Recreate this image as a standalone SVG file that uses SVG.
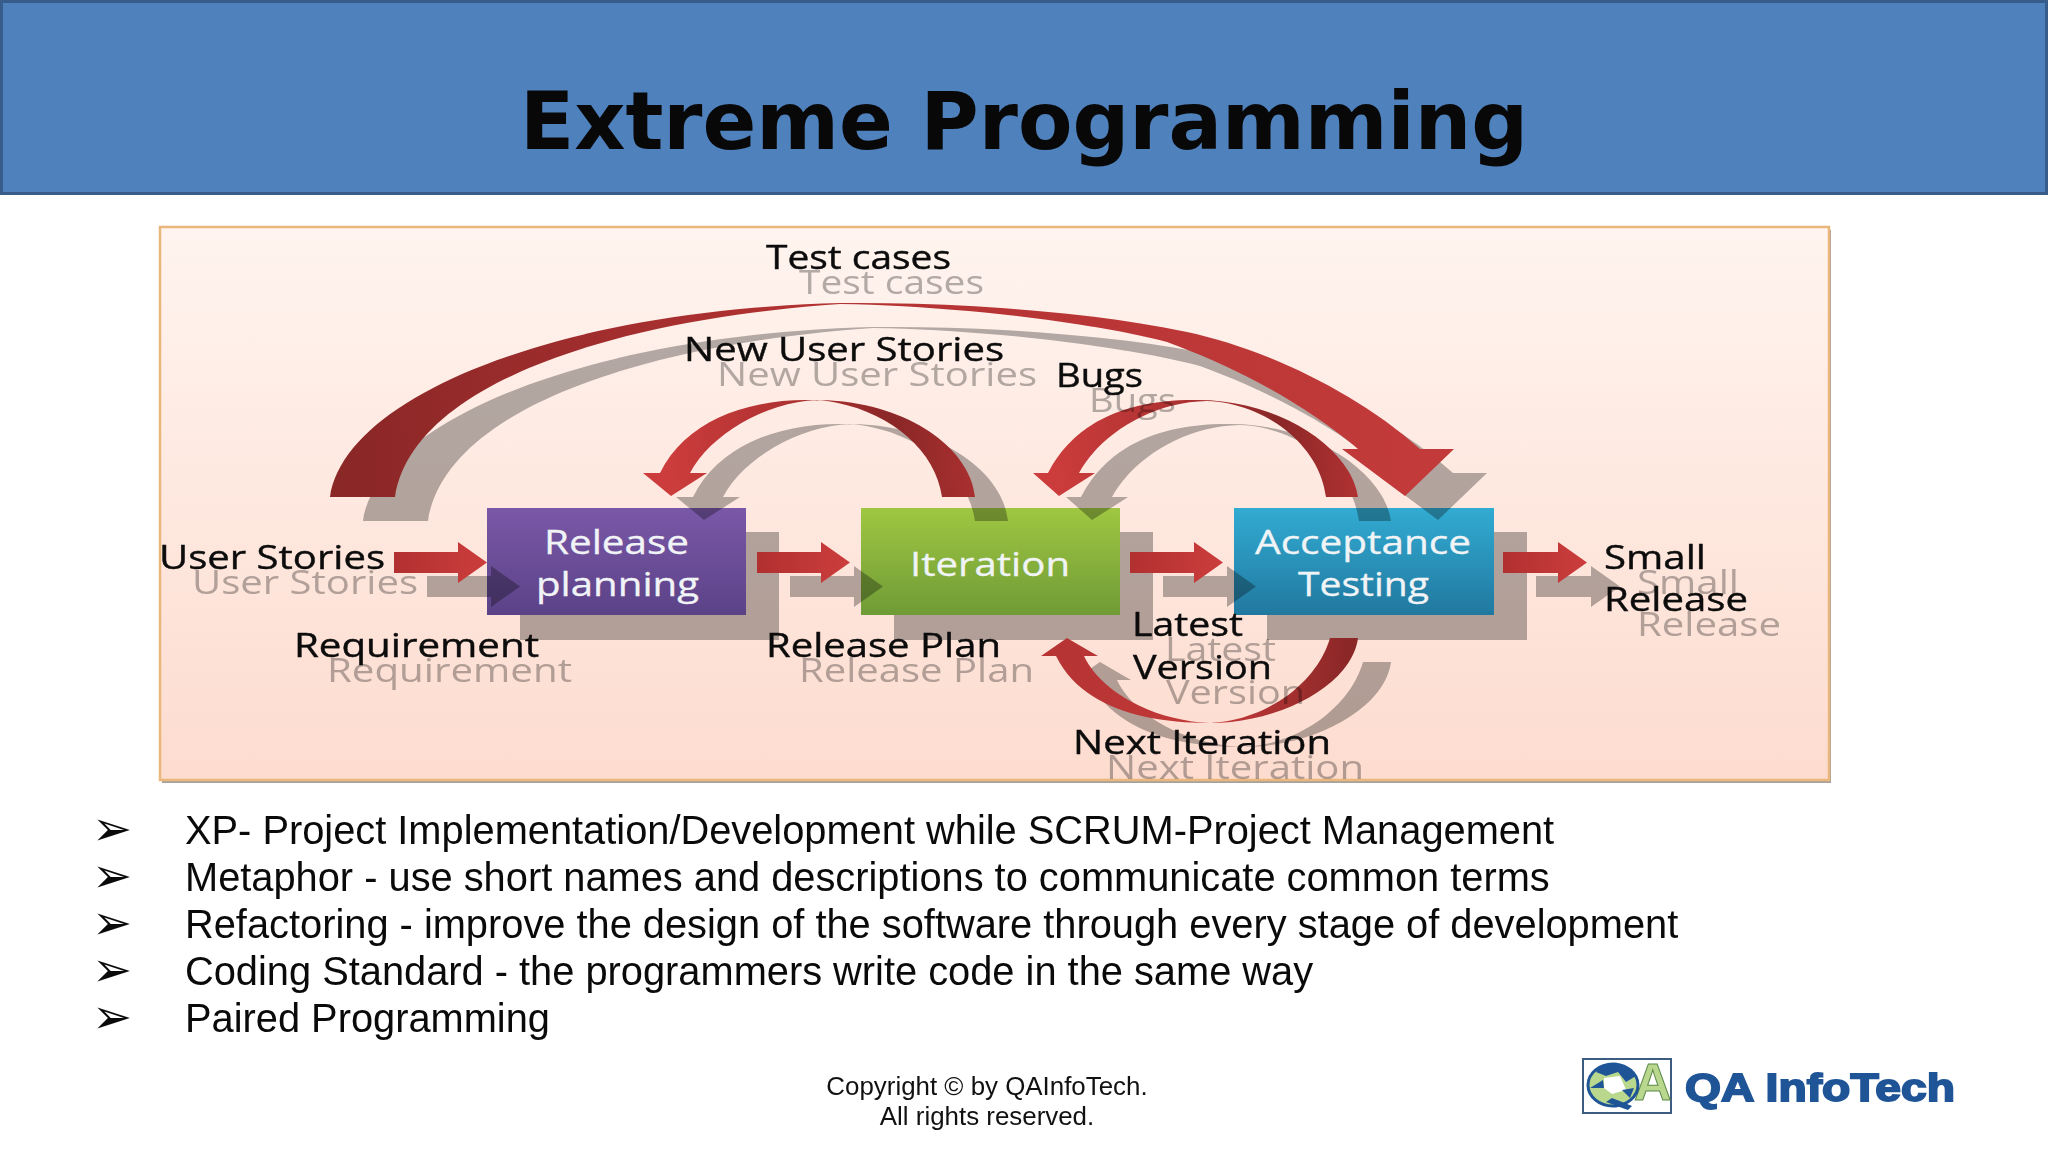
<svg xmlns="http://www.w3.org/2000/svg" xmlns:xlink="http://www.w3.org/1999/xlink" width="2048" height="1152" viewBox="0 0 2048 1152">
<style>
.lab{font-family:"Open Sans","DejaVu Sans",sans-serif;font-size:32px;fill:#0c0c0c;stroke:#0c0c0c;stroke-width:.4}
.ghost{font-family:"Open Sans","DejaVu Sans",sans-serif;font-size:32px;fill:#b3b3b3}
.ntx{font-family:"Open Sans","DejaVu Sans",sans-serif;font-size:32px;fill:#f1f4f6;stroke:#f1f4f6;stroke-width:.3}
.bul{font-family:"Liberation Sans",Arial,sans-serif;font-size:39.8px;fill:#0a0a0a}
.mark{font-family:"DejaVu Sans",sans-serif;font-size:48px;fill:#0a0a0a}
.foot{font-family:"Liberation Sans",Arial,sans-serif;font-size:25.9px;fill:#111;text-anchor:middle}
.sh{fill:#b3b3b3}
#shadows,#ghost-labels{mix-blend-mode:multiply}
.rs{mix-blend-mode:multiply;fill:#b3b3b3}
</style>
<defs>
<linearGradient id="pg" x1="0" y1="0" x2="0" y2="1"><stop offset="0" stop-color="#fff4ef"/><stop offset="1" stop-color="#fddccf"/></linearGradient>
<linearGradient id="pur" x1="0" y1="0" x2="0" y2="1"><stop offset="0" stop-color="#7a58a8"/><stop offset="1" stop-color="#5b4287"/></linearGradient>
<linearGradient id="grn" x1="0" y1="0" x2="0" y2="1"><stop offset="0" stop-color="#9fc742"/><stop offset="1" stop-color="#6f9b36"/></linearGradient>
<linearGradient id="blu" x1="0" y1="0" x2="0" y2="1"><stop offset="0" stop-color="#32abd2"/><stop offset="1" stop-color="#21789f"/></linearGradient>
<linearGradient id="rBig" gradientUnits="userSpaceOnUse" x1="340" y1="498" x2="1400" y2="420"><stop offset="0" stop-color="#8a2727"/><stop offset=".45" stop-color="#b23232"/><stop offset="1" stop-color="#c23a3a"/></linearGradient>
<linearGradient id="rS1" gradientUnits="userSpaceOnUse" x1="670" y1="490" x2="970" y2="470"><stop offset="0" stop-color="#cc3c3c"/><stop offset=".55" stop-color="#a52e2e"/><stop offset=".75" stop-color="#8a2727"/><stop offset="1" stop-color="#a82f2f"/></linearGradient>
<linearGradient id="rS2" gradientUnits="userSpaceOnUse" x1="1055" y1="490" x2="1355" y2="470"><stop offset="0" stop-color="#cc3c3c"/><stop offset=".55" stop-color="#a52e2e"/><stop offset=".75" stop-color="#8a2727"/><stop offset="1" stop-color="#b03131"/></linearGradient>
<linearGradient id="rS3" gradientUnits="userSpaceOnUse" x1="1060" y1="650" x2="1350" y2="660"><stop offset="0" stop-color="#b63434"/><stop offset=".55" stop-color="#c43939"/><stop offset="1" stop-color="#8a2727"/></linearGradient>
<linearGradient id="rA" x1="0" y1="0" x2="1" y2="0"><stop offset="0" stop-color="#b23030"/><stop offset="1" stop-color="#cc3d3d"/></linearGradient>
<path id="aStraight" d="M394,552H458V542L487,562.5L458,583V573H394Z"/>
<path id="aShort" d="M1503,552H1558V542L1587,562.5L1558,583V573H1503Z"/>
<path id="aBig" d="M330,497C345,395 560,310 840,303C950,302 1080,310 1187,332C1270,350 1360,395 1420,449L1454,449L1405,496L1342,449L1358,449C1300,400 1230,365 1167,342C1080,320 950,306 840,304C610,320 412,385 395,497Z"/>
<path id="aNew" d="M975,497C970,445 900,398 810,400C745,399 685,422 660,473L643,473L671,496L707,473L690,473C710,435 765,402 817,400C880,405 935,445 942,497Z"/>
<path id="aBugs" d="M1358,497C1350,445 1275,398 1193,400C1130,400 1075,420 1048,473L1033,473L1059,496L1095,473L1079,473C1100,435 1150,402 1207,401C1265,403 1320,445 1326,497Z"/>
<path id="aNext" d="M1358,638C1352,685 1280,723 1210,723C1140,723 1080,705 1056,656L1041,656L1067,638L1098,656L1084,656C1100,690 1150,720 1210,723C1270,720 1318,680 1330,638Z"/>
</defs>
<rect width="2048" height="1152" fill="#fff"/>
<g id="header">
<rect x="1.5" y="1.5" width="2045" height="192" fill="#4f81bd" stroke="#385d8a" stroke-width="3"/>
<text x="1024" y="149" font-family="'DejaVu Sans',sans-serif" font-weight="700" font-size="79.4" text-anchor="middle" fill="#080808">Extreme Programming</text>
</g>
<g id="panel">
<rect x="162" y="230" width="1669" height="553" fill="#a9a29c"/>
<rect x="160" y="227" width="1669" height="553" fill="url(#pg)" stroke="#e9b67c" stroke-width="2.5"/>
</g>
<g id="node-release-planning">
<rect class="rs" x="520" y="532" width="259" height="108"/>
<rect x="487" y="508" width="259" height="107" fill="url(#pur)"/>
<text class="ntx" x="544" y="554" textLength="145" lengthAdjust="spacingAndGlyphs">Release</text>
<text class="ntx" x="536" y="595.5" textLength="163" lengthAdjust="spacingAndGlyphs">planning</text>
</g>
<g id="node-iteration">
<rect class="rs" x="894" y="532" width="259" height="108"/>
<rect x="861" y="508" width="259" height="107" fill="url(#grn)"/>
<text class="ntx" x="910" y="576" textLength="160" lengthAdjust="spacingAndGlyphs">Iteration</text>
</g>
<g id="node-acceptance-testing">
<rect class="rs" x="1267" y="532" width="260" height="108"/>
<rect x="1234" y="508" width="260" height="107" fill="url(#blu)"/>
<text class="ntx" x="1255" y="554" textLength="216" lengthAdjust="spacingAndGlyphs">Acceptance</text>
<text class="ntx" x="1298" y="595.5" textLength="131" lengthAdjust="spacingAndGlyphs">Testing</text>
</g>
<g id="shadows">
<g transform="translate(33,24)" class="sh">
<use href="#aStraight"/>
<use href="#aStraight" x="363"/>
<use href="#aStraight" x="736"/>
<use href="#aShort"/>
<use href="#aBig"/><use href="#aNew"/><use href="#aBugs"/><use href="#aNext"/>
</g>
</g>
<g id="connectors">
<use href="#aStraight" fill="url(#rA)"/>
<use href="#aStraight" x="363" fill="url(#rA)"/>
<use href="#aStraight" x="736" fill="url(#rA)"/>
<use href="#aShort" fill="url(#rA)"/>
<use href="#aNew" fill="url(#rS1)"/>
<use href="#aBugs" fill="url(#rS2)"/>
<use href="#aBig" fill="url(#rBig)"/>
<use href="#aNext" fill="url(#rS3)"/>
</g>
<g id="ghost-labels">
<g transform="translate(33,25)">
<text class="ghost" x="766" y="269" textLength="185" lengthAdjust="spacingAndGlyphs">Test cases</text>
<text class="ghost" x="684" y="361" textLength="320" lengthAdjust="spacingAndGlyphs">New User Stories</text>
<text class="ghost" x="1056" y="387" textLength="87" lengthAdjust="spacingAndGlyphs">Bugs</text>
<text class="ghost" x="159" y="569" textLength="226" lengthAdjust="spacingAndGlyphs">User Stories</text>
<text class="ghost" x="294" y="657" textLength="245" lengthAdjust="spacingAndGlyphs">Requirement</text>
<text class="ghost" x="766" y="657" textLength="235" lengthAdjust="spacingAndGlyphs">Release Plan</text>
<text class="ghost" x="1132" y="636" textLength="111" lengthAdjust="spacingAndGlyphs">Latest</text>
<text class="ghost" x="1133" y="678.5" textLength="139" lengthAdjust="spacingAndGlyphs">Version</text>
<text class="ghost" x="1073" y="754" textLength="258" lengthAdjust="spacingAndGlyphs">Next Iteration</text>
<text class="ghost" x="1604" y="569" textLength="102" lengthAdjust="spacingAndGlyphs">Small</text>
<text class="ghost" x="1604" y="611" textLength="144" lengthAdjust="spacingAndGlyphs">Release</text>
</g>
</g>
<g id="labels">
<text class="lab" x="766" y="269" textLength="185" lengthAdjust="spacingAndGlyphs">Test cases</text>
<text class="lab" x="684" y="361" textLength="320" lengthAdjust="spacingAndGlyphs">New User Stories</text>
<text class="lab" x="1056" y="387" textLength="87" lengthAdjust="spacingAndGlyphs">Bugs</text>
<text class="lab" x="159" y="569" textLength="226" lengthAdjust="spacingAndGlyphs">User Stories</text>
<text class="lab" x="294" y="657" textLength="245" lengthAdjust="spacingAndGlyphs">Requirement</text>
<text class="lab" x="766" y="657" textLength="235" lengthAdjust="spacingAndGlyphs">Release Plan</text>
<text class="lab" x="1132" y="636" textLength="111" lengthAdjust="spacingAndGlyphs">Latest</text>
<text class="lab" x="1133" y="678.5" textLength="139" lengthAdjust="spacingAndGlyphs">Version</text>
<text class="lab" x="1073" y="754" textLength="258" lengthAdjust="spacingAndGlyphs">Next Iteration</text>
<text class="lab" x="1604" y="569" textLength="102" lengthAdjust="spacingAndGlyphs">Small</text>
<text class="lab" x="1604" y="611" textLength="144" lengthAdjust="spacingAndGlyphs">Release</text>
</g>
<g id="bullets">
<text class="mark" x="92" y="845">➢</text><text class="bul" x="185" y="843.7">XP- Project Implementation/Development while SCRUM-Project Management</text>
<text class="mark" x="92" y="892">➢</text><text class="bul" x="185" y="890.7">Metaphor - use short names and descriptions to communicate common terms</text>
<text class="mark" x="92" y="939">➢</text><text class="bul" x="185" y="937.7">Refactoring - improve the design of the software through every stage of development</text>
<text class="mark" x="92" y="986">➢</text><text class="bul" x="185" y="984.7">Coding Standard - the programmers write code in the same way</text>
<text class="mark" x="92" y="1033">➢</text><text class="bul" x="185" y="1031.7">Paired Programming</text>
</g>
<g id="footer">
<text class="foot" x="987" y="1095">Copyright © by QAInfoTech.</text>
<text class="foot" x="987" y="1125">All rights reserved.</text>
</g>
<g id="logo">
<rect x="1583" y="1059" width="88" height="54" fill="#fff" stroke="#3c5c82" stroke-width="2"/>
<text x="1634" y="1100" font-family="'Liberation Sans',sans-serif" font-weight="700" font-size="52" fill="#b9d88e" stroke="#5c8a4a" stroke-width="1">A</text>
<ellipse cx="1613" cy="1085" rx="25" ry="21" fill="#b9d88e" stroke="#1f5597" stroke-width="3"/>
<path d="M1596,1072C1604,1060 1625,1060 1636,1076L1626,1082L1618,1072L1606,1076Z" fill="#1f5597"/>
<path d="M1590,1088L1603,1080L1604,1088Z" fill="#1f5597"/>
<path d="M1604,1078L1620,1076L1626,1090L1612,1094L1604,1088Z" fill="#fff"/>
<path d="M1612,1098L1632,1106L1628,1110L1606,1102ZM1622,1090L1634,1088L1630,1098Z" fill="#1f5597"/>
<text x="1685" y="1101" font-family="'Liberation Sans',sans-serif" font-weight="700" font-size="38" fill="#1f5597" stroke="#1f5597" stroke-width="1.8" textLength="270" lengthAdjust="spacingAndGlyphs">QA InfoTech</text>
</g>
</svg>
